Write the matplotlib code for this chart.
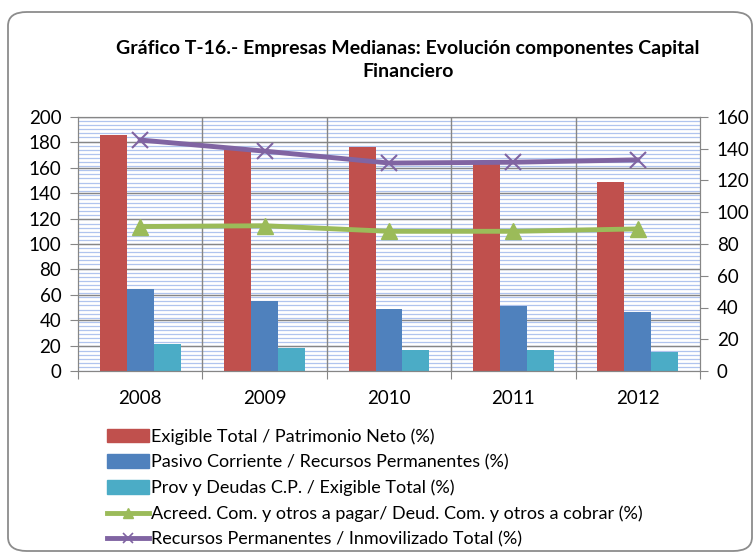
import numpy as np
import matplotlib
matplotlib.use("Agg")
import matplotlib.pyplot as plt
from matplotlib.patches import FancyBboxPatch, Patch
from matplotlib.lines import Line2D

years = ['2008', '2009', '2010', '2011', '2012']
exigible = [186, 174, 176, 164, 149]
pasivo = [64.5, 55, 49, 51.5, 46.5]
prov = [21.5, 18.5, 16.5, 16.5, 15]
acreed = [91, 91.5, 88, 88, 89.5]
recursos = [145.5, 138.5, 131, 131.5, 133]

labels = ['Exigible Total / Patrimonio Neto (%)',
          'Pasivo Corriente / Recursos Permanentes (%)',
          'Prov y Deudas C.P. / Exigible Total (%)',
          'Acreed. Com. y otros a pagar/ Deud. Com. y otros a cobrar (%)',
          'Recursos Permanentes / Inmovilizado Total (%)']
title = 'Gráfico T-16.- Empresas Medianas: Evolución componentes Capital\nFinanciero'

c_red, c_blue, c_teal = '#C0504D', '#4F81BD', '#4BACC6'
c_green, c_purple = '#9BBB59', '#8064A2'
grid_c = '#868686'

plt.rcParams['font.family'] = ['Lato', 'DejaVu Sans']

W, H = 755, 552
fig = plt.figure(figsize=(W / 100, H / 100), dpi=100)

# rounded frame
frame = FancyBboxPatch((8 / W, 1 - 551 / H), (752 - 8) / W, (551 - 12) / H,
                       boxstyle='round,pad=0,rounding_size=0.025',
                       transform=fig.transFigure, fill=False,
                       edgecolor='#8C8C8C', linewidth=1.3, clip_on=False)
fig.patches.append(frame)

fig.text(408 / W, 1 - 60 / H, title, ha='center', va='center',
         fontsize=14, fontweight='bold', linespacing=1.4)

ax = fig.add_axes([78 / W, 1 - 371 / H, (700 - 78) / W, (371 - 117) / H])
ax.set_xlim(-0.5, 4.5)
ax.set_ylim(0, 200)

# striped background pattern
for yy in np.arange(0, 200, 200 / 62):
    ax.axhline(yy, color='#B0C4EE', lw=0.9, zorder=0.3)

for yy in range(20, 201, 20):
    ax.axhline(yy, color=grid_c, lw=1.0, zorder=0.6)
for xx in np.arange(0.5, 4.5, 1):
    ax.axvline(xx, color=grid_c, lw=1.0, zorder=0.6)

x = np.arange(len(years))
w = 0.216
ax.bar(x - w, exigible, w, color=c_red, zorder=2)
ax.bar(x, pasivo, w, color=c_blue, zorder=2)
ax.bar(x + w, prov, w, color=c_teal, zorder=2)

ax.set_yticks(range(0, 201, 20))
ax.set_xticks(np.arange(-0.5, 4.6, 1), minor=False)
ax.set_xticklabels([])
ax.set_xticks(x, minor=True)
ax.set_xticklabels(years, minor=True)
ax.tick_params(axis='x', which='minor', length=0, pad=14, labelsize=13.5)
ax.tick_params(axis='x', which='major', length=6, color=grid_c, direction='out')
ax.tick_params(axis='y', length=6, color=grid_c, labelsize=13.5, pad=6)
for s in ax.spines.values():
    s.set_color(grid_c)

ax2 = ax.twinx()
ax2.set_ylim(0, 160)
ax2.set_yticks(range(0, 161, 20))
ax2.tick_params(axis='y', length=6, color=grid_c, labelsize=13.5, pad=6)
for s in ax2.spines.values():
    s.set_color(grid_c)
ax2.plot(x, acreed, color=c_green, lw=3.5, marker='^', markersize=11,
         markerfacecolor=c_green, markeredgecolor=c_green, zorder=3)
ax2.plot(x, recursos, color=c_purple, lw=3.5, marker='x', markersize=12,
         markeredgewidth=1.5, zorder=3)

handles = [Patch(color=c_red), Patch(color=c_blue), Patch(color=c_teal),
           Line2D([], [], color=c_green, lw=3.5, marker='^', markersize=7),
           Line2D([], [], color=c_purple, lw=3.5, marker='x', markersize=7,
                  markeredgewidth=1.2)]
fig.legend(handles, labels, loc='upper left',
           bbox_to_anchor=(100 / W, 1 - 421 / H), frameon=False,
           fontsize=13, handlelength=2.3, handleheight=0.75,
           handletextpad=0.15, labelspacing=0.52, borderaxespad=0)

fig.savefig('out.png', dpi=100)
